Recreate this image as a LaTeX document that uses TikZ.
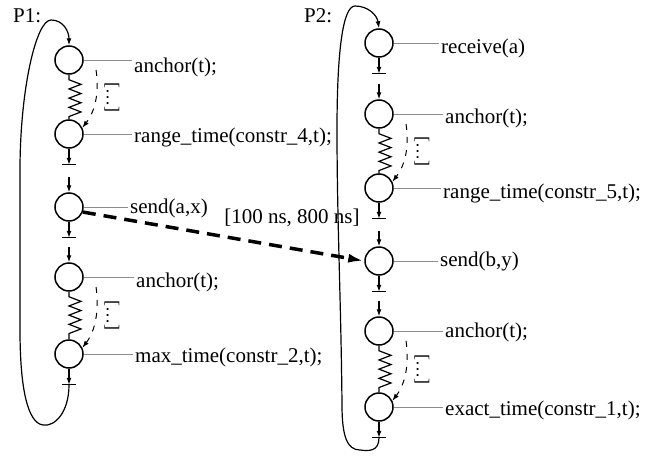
\documentclass[tikz,border=0pt]{standalone}
\usepackage{fontspec}
\setmainfont{Liberation Serif}
\usetikzlibrary{arrows.meta,calc}
\newcommand\myspring[2]{%
  \draw[springline] (#1.south) -- ++(0,5) -- ++(12,4.6) -- ++(-12,4.6) -- ++(12,4.6) -- ++(-12,4.6) -- ++(12,4.6) -- ++(-12,4.6) -- ++(12,4.6) -- ++(-12,4.6) -- (#2.north);
  \draw[dashcurve] ($(#1.center)+(27,10)$) .. controls ($(#1.center)+(29,22)$) and ($(#2.center)+(30,-28)$) .. (#2.25);
  \node[dots] (#1dots) at ($(#1.center)!0.5!(#2.center)+(43,0)$) {[\ldots]};
}
\newcommand\mystub[2]{%
  \coordinate (#2) at ($(#1.south)+(0,16)$);
  \draw[link] (#1.south) -- (#2);
  \draw[line width=1.1pt] ($(#2)+(-7,0)$) -- ($(#2)+(7,0)$);
}
\newcommand\myin[2]{%
  \coordinate (#2) at ($(#1.north)+(0,-15)$);
  \draw[link] (#2) -- (#1.north);
}
\begin{document}
\begin{tikzpicture}[x=1pt,y=-1pt,
  st/.style={circle,draw,line width=1.5pt,minimum size=28pt,inner sep=0pt},
  lbl/.style={anchor=base west,inner sep=0pt,font=\fontsize{21}{25}\selectfont},
  lead/.style={draw=black!45,line width=0.9pt},
  link/.style={line width=1.2pt,-{Latex[length=7pt,width=5pt]}},
  springline/.style={line width=1.2pt},
  dashcurve/.style={line width=1pt,dash pattern=on 6pt off 7pt,-{Latex[length=7pt,width=5pt]}},
  dots/.style={rotate=-90,inner sep=0pt,font=\fontsize{18}{20}\selectfont},
  loop/.style={line width=1.2pt,-{Latex[length=7pt,width=5pt]}},
  ]
\useasboundingbox (0,0) rectangle (661,455);

% P1 states
\node[st] (a1) at (69,60) {};
\node[st] (a2) at (69,134) {};
\node[st] (a3) at (69,207) {};
\node[st] (a4) at (69,277) {};
\node[st] (a5) at (69,354) {};
% P2 states
\node[st] (b1) at (379,43) {};
\node[st] (b2) at (379,114) {};
\node[st] (b3) at (379,188) {};
\node[st] (b4) at (379,261) {};
\node[st] (b5) at (379,331) {};
\node[st] (b6) at (379,407) {};

% titles
\node[lbl] (p1) at (13,22) {P1:};
\node[lbl] (p2) at (304,22) {P2:};

% labels
\node[lbl] (la1) at (134,72) {anchor(t);};
\node[lbl] (la2) at (134,142) {range\_time(constr\_4,t);};
\node[lbl] (la3) at (130,213) {send(a,x)};
\node[lbl] (la4) at (136,287) {anchor(t);};
\node[lbl] (la5) at (135,362) {max\_time(constr\_2,t);};
\node[lbl] (lb1) at (441,53) {receive(a)};
\node[lbl] (lb2) at (445,123) {anchor(t);};
\node[lbl] (lb3) at (443,198) {range\_time(constr\_5,t);};
\node[lbl] (lb4) at (440,266) {send(b,y)};
\node[lbl] (lb5) at (445,337) {anchor(t);};
\node[lbl] (lb6) at (445,415) {exact\_time(constr\_1,t);};

\foreach \c/\t in {a1/la1,a2/la2,a3/la3,a4/la4,a5/la5,b1/lb1,b2/lb2,b3/lb3,b4/lb4,b5/lb5,b6/lb6}
  \draw[lead] (\c.east) -- ($(\c.east -| \t.west)+(-2,0)$);

% springs
\myspring{a1}{a2}
\myspring{a4}{a5}
\myspring{b2}{b3}
\myspring{b5}{b6}

% stubs
\mystub{a2}{ta2}
\myin{a3}{ia3}
\mystub{a3}{ta3}
\myin{a4}{ia4}
\mystub{a5}{ta5}
\mystub{b1}{tb1}
\myin{b2}{ib2}
\mystub{b3}{tb3}
\myin{b4}{ib4}
\mystub{b4}{tb4}
\myin{b5}{ib5}
\mystub{b6}{tb6}

% loops
\draw[loop] (ta5) .. controls (69,412) and (55,427) .. (43,425)
  .. controls (28,423) and (20,390) .. (20,330) -- (20,170)
  .. controls (20,90) and (36,20) .. (51,20)
  .. controls (63,20) and (69,31) .. (a1.north);
\draw[loop] (tb6) .. controls (379,452) and (368,451) .. (360,450)
  .. controls (347,450) and (342,436) .. (342,405)
  .. controls (341,300) and (337,220) .. (337,130)
  .. controls (337,50) and (343,6) .. (355,6)
  .. controls (368,6) and (377,15) .. (b1.north);

% message
\draw[line width=3.5pt,dash pattern=on 13pt off 8pt,-{Latex[length=16pt,width=9pt]}] (a3.-20) -- (b4.west);
\node[font=\fontsize{21}{25}\selectfont,inner sep=0pt] (iv) at (292,218) {[100 ns, 800 ns]};
\end{tikzpicture}
\end{document}
